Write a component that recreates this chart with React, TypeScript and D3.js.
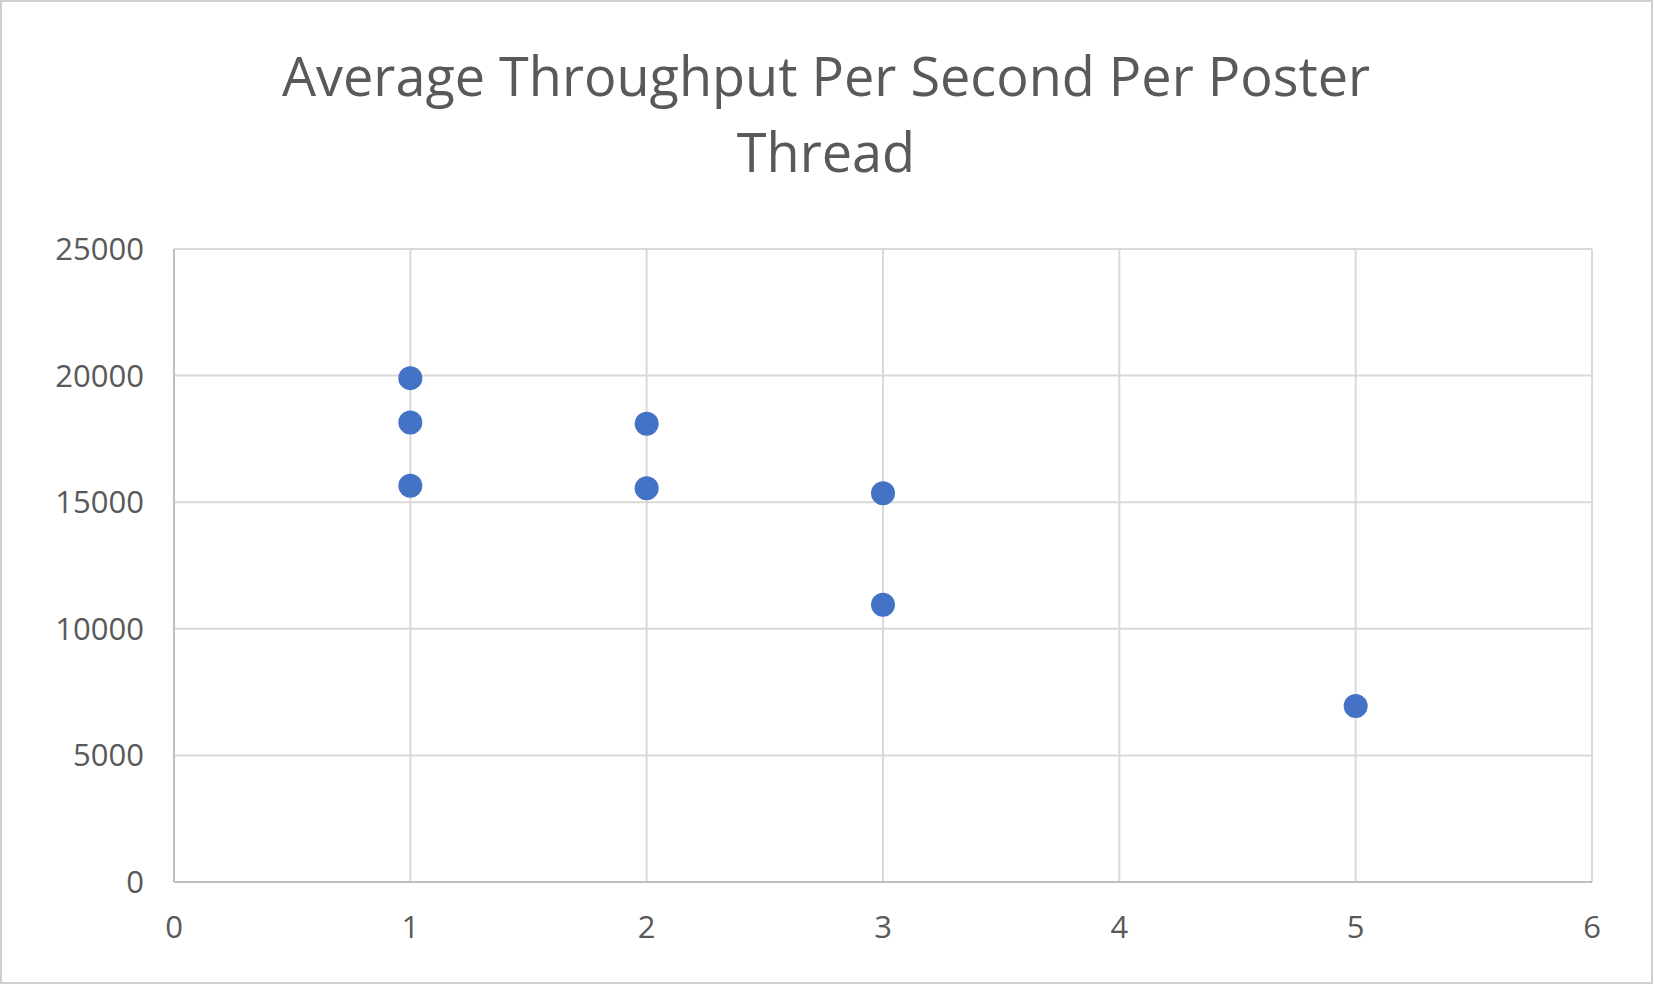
import React, { useEffect, useRef } from 'react';
import * as d3 from 'd3';

const threads = [1, 1, 1, 2, 2, 3, 3, 5];
const throughput = [19900, 18150, 15650, 18100, 15550, 15350, 10950, 6950];
const xTicks = [0, 1, 2, 3, 4, 5, 6];
const yTicks = [0, 5000, 10000, 15000, 20000, 25000];
const titleLines = ['Average Throughput Per Second Per Poster', 'Thread'];

export default function App() {
  const ref = useRef<SVGSVGElement | null>(null);

  useEffect(() => {
    if (!ref.current) return;
    const W = 1654, H = 991;
    const margin = { top: 249, right: 62, bottom: 109, left: 174 };
    const svg = d3.select(ref.current);
    svg.selectAll('*').remove();
    svg.attr('width', W).attr('height', H);

    svg.append('rect').attr('x', 1).attr('y', 1).attr('width', W - 3).attr('height', H - 9)
      .attr('fill', '#fff').attr('stroke', '#d0d0d0').attr('stroke-width', 2);

    const x = d3.scaleLinear().domain([0, 6]).range([margin.left, W - margin.right]);
    const y = d3.scaleLinear().domain([0, 25000]).range([H - margin.bottom, margin.top]);

    const font = '"Open Sans", sans-serif';

    svg.append('g').selectAll('line.v').data(xTicks.slice(1)).join('line')
      .attr('x1', d => x(d)).attr('x2', d => x(d)).attr('y1', y(0)).attr('y2', y(25000))
      .attr('stroke', '#d9d9d9').attr('stroke-width', 2);
    svg.append('g').selectAll('line.h').data(yTicks.slice(1)).join('line')
      .attr('x1', x(0)).attr('x2', x(6)).attr('y1', d => y(d)).attr('y2', d => y(d))
      .attr('stroke', '#d9d9d9').attr('stroke-width', 2);
    // axes
    svg.append('line').attr('x1', x(0)).attr('x2', x(6)).attr('y1', y(0)).attr('y2', y(0))
      .attr('stroke', '#bfbfbf').attr('stroke-width', 2);
    svg.append('line').attr('x1', x(0)).attr('x2', x(0)).attr('y1', y(0)).attr('y2', y(25000))
      .attr('stroke', '#bfbfbf').attr('stroke-width', 2);

    svg.append('g').selectAll('text').data(xTicks).join('text')
      .attr('x', d => x(d)).attr('y', y(0) + 56).attr('text-anchor', 'middle')
      .attr('fill', '#595959').style('font-family', font).style('font-size', '31px')
      .text(d => String(d));
    svg.append('g').selectAll('text').data(yTicks).join('text')
      .attr('x', x(0) - 30).attr('y', d => y(d) + 11).attr('text-anchor', 'end')
      .attr('fill', '#595959').style('font-family', font).style('font-size', '31px')
      .text(d => String(d));

    svg.append('g').selectAll('text').data(titleLines).join('text')
      .attr('x', 826).attr('y', (_, i) => 96 + i * 76).attr('text-anchor', 'middle')
      .attr('fill', '#595959').style('font-family', font).style('font-size', '54px')
      .text(d => d);

    svg.append('g').selectAll('circle').data(threads).join('circle')
      .attr('cx', d => x(d)).attr('cy', (_, i) => y(throughput[i])).attr('r', 12)
      .attr('fill', '#4472c4');
  }, []);

  return <svg ref={ref} style={{ position: 'absolute', left: 0, top: 0 }} />;
}
